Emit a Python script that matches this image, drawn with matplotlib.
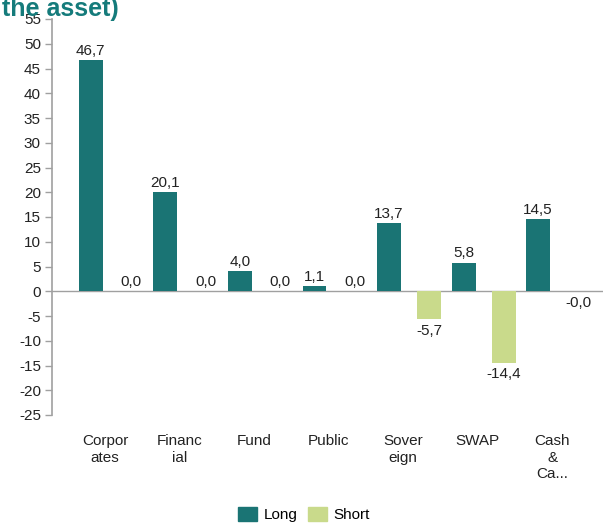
import numpy as np
import matplotlib
matplotlib.use('Agg')
import matplotlib.pyplot as plt
from matplotlib.patches import Patch

plt.rcParams['font.family'] = ['Liberation Sans', 'DejaVu Sans']

# Data
categories = ['Corpor\nates', 'Financ\nial', 'Fund', 'Public', 'Sover\neign', 'SWAP', 'Cash\n&\nCa...']
long_vals = [46.7, 20.1, 4.0, 1.1, 13.7, 5.8, 14.5]
short_vals = [0.0, 0.0, 0.0, 0.0, -5.7, -14.4, -0.02]
yticks = list(range(-25, 60, 5))

long_color = '#1a7474'
short_color = '#c9da8b'
text_color = '#222222'
axis_gray = '#a0a0a0'
fs = 11

fig = plt.figure(figsize=(6.03, 5.23), dpi=100)
ax = fig.add_axes([52 / 603, 1 - 415 / 523, (603 - 52) / 603, (415 - 19) / 523])

x = np.arange(len(categories))
width = 0.32
offset = 0.27

ax.bar(x - offset, long_vals, width, color=long_color, label='Long', zorder=2)
ax.bar(x + offset, short_vals, width, color=short_color, label='Short', zorder=2)

def fmt(v):
    return f"{v:.1f}".replace('.', ',')

for xi, v in zip(x - offset, long_vals):
    ax.annotate(fmt(v), (xi, v), xytext=(0, 1.5 if v >= 0 else -3), textcoords='offset points',
                ha='center', va='bottom' if v >= 0 else 'top', fontsize=fs, color=text_color)
for xi, v in zip(x + offset, short_vals):
    ax.annotate(fmt(v), (xi, v), xytext=(0, 1.5 if v >= 0 else -3), textcoords='offset points',
                ha='center', va='bottom' if v >= 0 else 'top', fontsize=fs, color=text_color)

ax.axhline(0, color=axis_gray, linewidth=1, zorder=1)

ax.set_ylim(-25, 55)
ax.set_xlim(-0.79, 6.6)
ax.set_yticks(yticks)
ax.set_yticklabels([str(t) for t in yticks], fontsize=fs, color=text_color)
ax.set_xticks(x - 0.08)
ax.set_xticklabels(categories, fontsize=fs, color=text_color, va='top', linespacing=1.2)
ax.tick_params(axis='x', length=0, pad=14)
ax.tick_params(axis='y', length=5, width=1, color=axis_gray, pad=3)

for s in ['top', 'right', 'bottom']:
    ax.spines[s].set_visible(False)
ax.spines['left'].set_color(axis_gray)
ax.spines['left'].set_linewidth(1.2)

handles = [Patch(color=long_color, label='Long'), Patch(color=short_color, label='Short')]
fig.legend(handles=handles, loc='lower center', bbox_to_anchor=(304 / 603, -0.025), ncol=2,
           frameon=False, fontsize=fs, handlelength=1.25, handleheight=1.1,
           columnspacing=0.7, handletextpad=0.4)

fig.text(0.003, 1 - 16 / 523, 'the asset)', fontsize=18, fontweight='bold',
         color='#157b7b', ha='left', va='baseline')

fig.savefig('out.png', dpi=100)
